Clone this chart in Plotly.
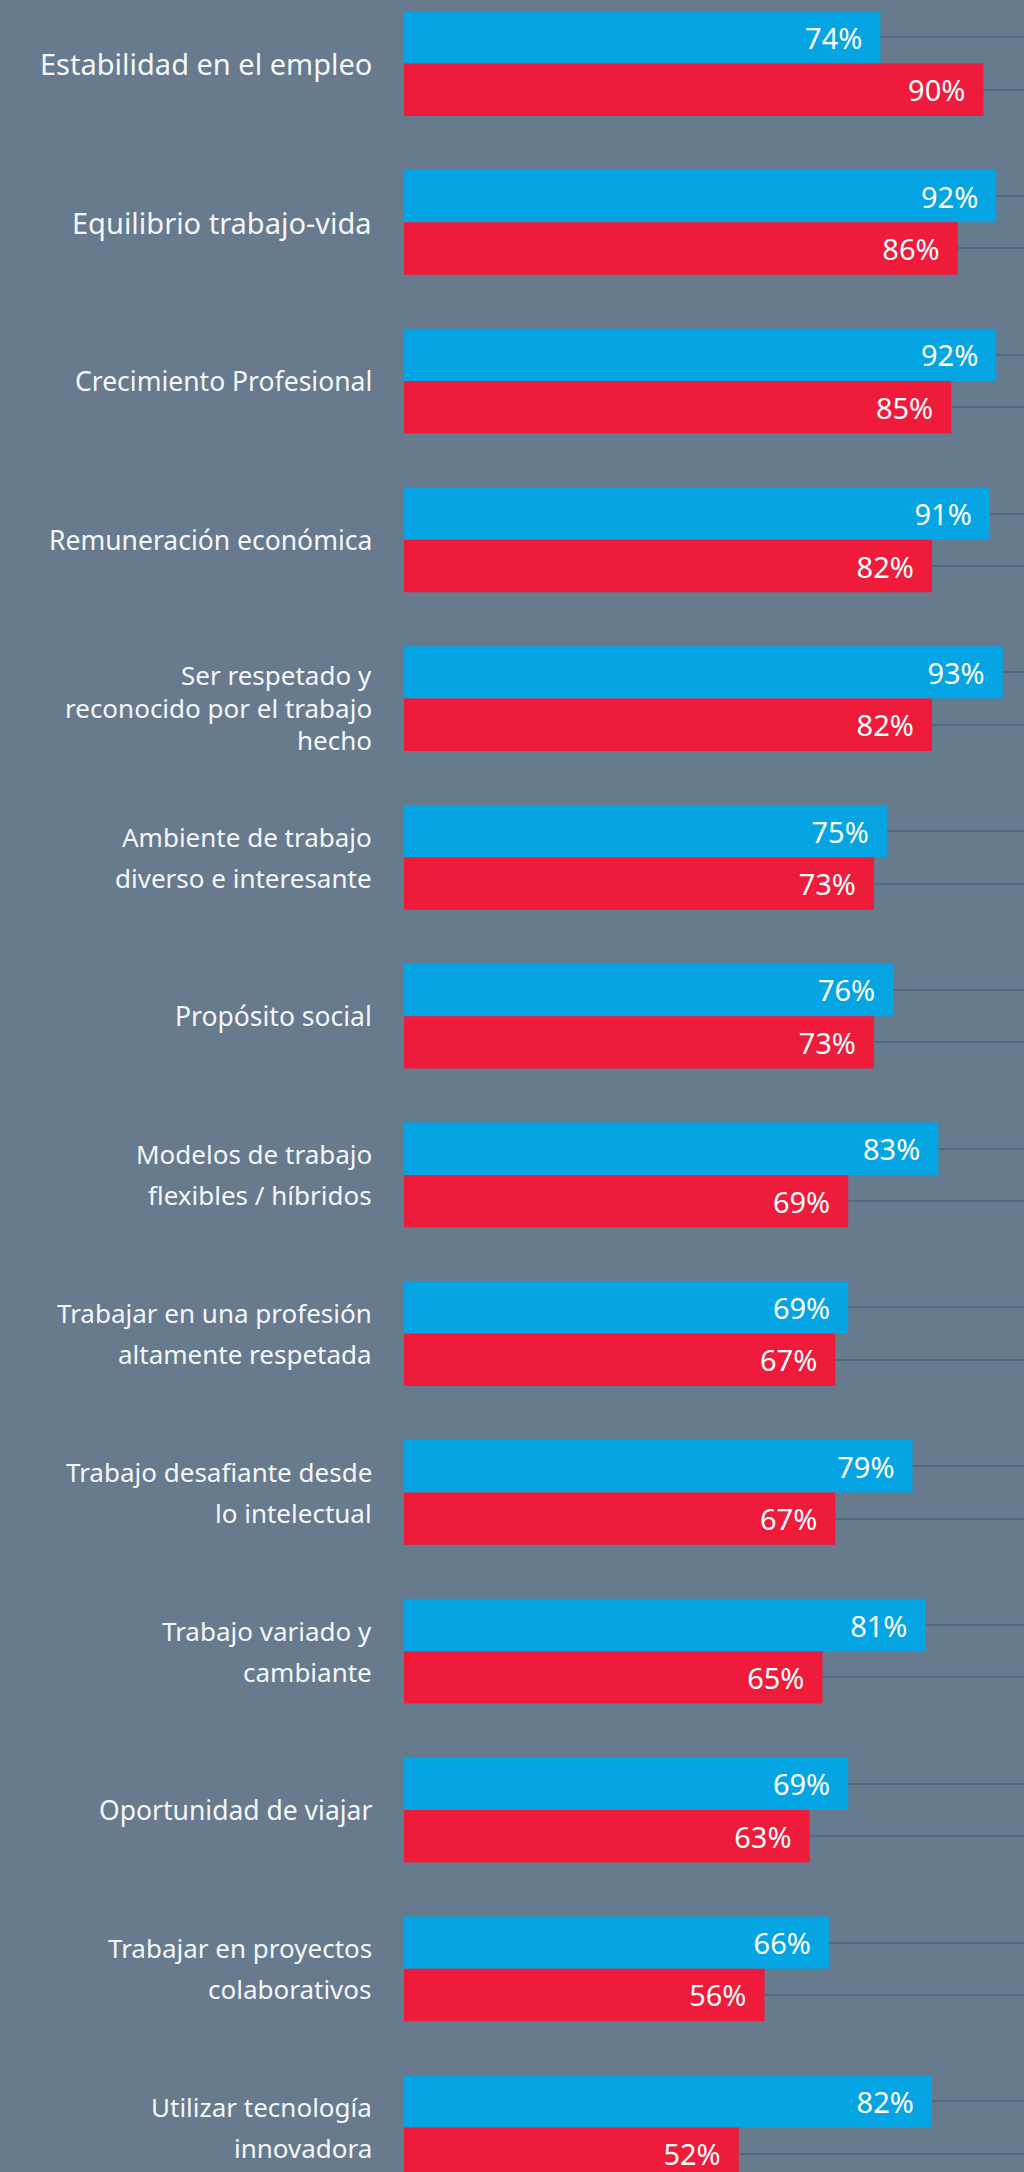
import plotly.graph_objects as go

# Categories (top to bottom) and the two series
labels = [
    "Estabilidad en el empleo",
    "Equilibrio trabajo-vida",
    "Crecimiento Profesional",
    "Remuneración económica",
    "Ser respetado y<br>reconocido por el trabajo<br>hecho",
    "Ambiente de trabajo<br>diverso e interesante",
    "Propósito social",
    "Modelos de trabajo<br>flexibles / híbridos",
    "Trabajar en una profesión<br>altamente respetada",
    "Trabajo desafiante desde<br>lo intelectual",
    "Trabajo variado y<br>cambiante",
    "Oportunidad de viajar",
    "Trabajar en proyectos<br>colaborativos",
    "Utilizar tecnología<br>innovadora",
]
blue_values = [74, 92, 92, 91, 93, 75, 76, 83, 69, 79, 81, 69, 66, 82]
red_values = [90, 86, 85, 82, 82, 73, 73, 69, 67, 67, 65, 63, 56, 52]

BG = "#677A8E"
BLUE = "#05A5E3"
RED = "#EE1B3B"
GRID = "#55687F"
FONT = "Noto Sans"

positions = list(range(len(labels)))
bargap = 0.34
half = (1 - bargap) / 4  # offset of each bar center from the group center

fig = go.Figure()
for vals, color in [(blue_values, BLUE), (red_values, RED)]:
    fig.add_trace(go.Bar(
        y=positions,
        x=vals,
        orientation="h",
        marker=dict(color=color, line=dict(width=0)),
        text=vals,
        texttemplate="%{x}%\u00a0\u00a0",
        textposition="inside",
        insidetextanchor="end",
        textangle=0,
        textfont=dict(family=FONT, size=29, color="white"),
        showlegend=False,
        hoverinfo="skip",
    ))

# Category labels, one annotation per line so the line spacing can follow the original
for p, lab in zip(positions, labels):
    lines = lab.split("<br>")
    n = len(lines)
    if n == 1:
        size = 29 if p < 2 else 26.5
    else:
        size = 26
    spacing = 41 if n == 2 else 32.5
    shift = 9 if n == 3 else 0
    for k, line in enumerate(lines):
        offset = (k - (n - 1) / 2) * spacing + shift
        fig.add_annotation(
            text=line,
            xref="paper", x=0, xanchor="right", xshift=-30,
            yref="y", y=p, yanchor="middle", yshift=-offset,
            showarrow=False,
            font=dict(family=FONT, size=size, color="#F4F6F8"),
        )

bar_centers = sorted([p - half for p in positions] + [p + half for p in positions])

fig.update_layout(
    width=1024,
    height=2172,
    margin=dict(l=404, r=0, t=0, b=0),
    paper_bgcolor=BG,
    plot_bgcolor=BG,
    barmode="group",
    bargap=bargap,
    bargroupgap=0,
    xaxis=dict(range=[0, 96.3], showgrid=False, zeroline=False,
               showticklabels=False, fixedrange=True),
    yaxis=dict(range=[13.28, -0.40], showgrid=False, zeroline=False,
               showticklabels=False, ticks="",
               minor=dict(tickmode="array", tickvals=bar_centers,
                          showgrid=True, gridcolor=GRID, gridwidth=2)),
)

fig.write_html("out.html", config={"displayModeBar": False},
               post_script="document.body.style.margin='0';")
